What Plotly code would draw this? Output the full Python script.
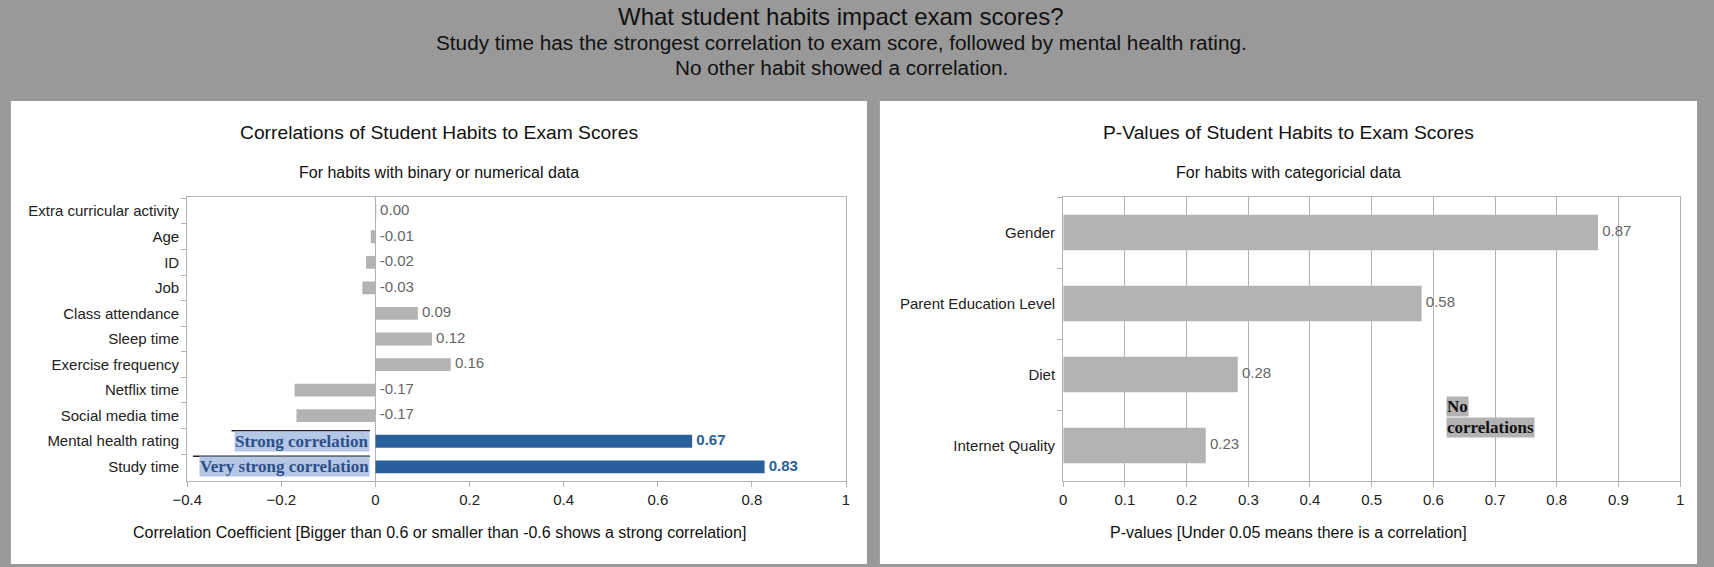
import plotly.graph_objects as go

# left chart: correlation coefficients (binary / numerical habits)
habits = ["Extra curricular activity", "Age", "ID", "Job", "Class attendance", "Sleep time",
          "Exercise frequency", "Netflix time", "Social media time", "Mental health rating", "Study time"]
corr = [0.001, -0.01, -0.02, -0.028, 0.09, 0.12, 0.16, -0.172, -0.168, 0.673, 0.827]
strong = [False] * 9 + [True, True]

# right chart: p-values (categorical habits)
cat_habits = ["Gender", "Parent Education Level", "Diet", "Internet Quality"]
pvals = [0.867, 0.581, 0.283, 0.231]

W, H = 1714, 567
BG = "#999999"
GRAY = "#b3b3b3"
BLUE = "#2a5f9e"
FONT = "Liberation Sans, Arial, sans-serif"
SERIF = "Liberation Serif, Times New Roman, serif"
TICK = 15


def px(x):
    # screenshot shows the figure shifted ~13px right, compensate
    return (1.0077 * x - 13.2) / W


def py(y):
    return 1 - y / H


fig = go.Figure()

bar_colors = [BLUE if s else GRAY for s in strong]
fig.add_trace(go.Bar(
    x=corr, y=habits, orientation="h", width=0.5,
    marker=dict(color=bar_colors, line=dict(width=0)),
    xaxis="x", yaxis="y", hoverinfo="x+y",
))
fig.add_trace(go.Scatter(
    x=[max(v, 0) for v in corr], y=habits, mode="text",
    text=[f"{v:.2f}" for v in corr],
    texttemplate=[" <b>%{text}</b>" if s else " %{text}" for s in strong],
    textposition="middle right",
    textfont=dict(family=FONT, size=TICK, color=[BLUE if s else "#666666" for s in strong]),
    xaxis="x", yaxis="y", hoverinfo="skip",
))

fig.add_trace(go.Bar(
    x=pvals, y=cat_habits, orientation="h", width=0.5,
    marker=dict(color=GRAY, line=dict(width=0)),
    xaxis="x2", yaxis="y2", hoverinfo="x+y",
))
fig.add_trace(go.Scatter(
    x=pvals, y=cat_habits, mode="text",
    text=[f"{v:.2f}" for v in pvals], texttemplate=" %{text}", textposition="middle right",
    textfont=dict(family=FONT, size=TICK, color="#666666"),
    xaxis="x2", yaxis="y2", hoverinfo="skip",
))

axis_common = dict(
    showline=True, linecolor=GRAY, linewidth=1, mirror=True,
    ticks="outside", ticklen=5, tickcolor=GRAY,
    tickfont=dict(family=FONT, size=TICK, color="#222222"),
)

fig.update_layout(
    width=W, height=H,
    margin=dict(l=0, r=0, t=0, b=0),
    paper_bgcolor=BG, plot_bgcolor="white",
    showlegend=False,
    font=dict(family=FONT, color="#222222"),
    xaxis=dict(domain=[px(186), px(847)], anchor="y", range=[-0.4, 1], dtick=0.2,
               showgrid=False, zeroline=True, zerolinecolor=GRAY, zerolinewidth=1,
               tickformat="~g", **axis_common),
    yaxis=dict(domain=[py(481), py(197)], anchor="x", autorange="reversed",
               tickson="boundaries", showgrid=False, ticksuffix=" ", **axis_common),
    xaxis2=dict(domain=[px(1065), px(1684)], anchor="y2", range=[0, 1], dtick=0.1,
                showgrid=True, gridcolor=GRAY, gridwidth=1, zeroline=False,
                tickformat="~g", **axis_common),
    yaxis2=dict(domain=[py(481), py(197)], anchor="x2", autorange="reversed",
                tickson="boundaries", showgrid=False, ticksuffix=" ", **axis_common),
)

# white panels
for x0, x1 in [(9, 868), (881, 1701)]:
    fig.add_shape(type="rect", xref="paper", yref="paper",
                  x0=px(x0), x1=px(x1), y0=py(564), y1=py(101),
                  fillcolor="white", line=dict(width=0), layer="below")

texts = [
    ("What student habits impact exam scores?", 842, 17, 24),
    ("Study time has the strongest correlation to exam score, followed by mental health rating.", 842, 42, 20.75),
    ("No other habit showed a correlation.", 842, 67, 20.75),
    ("Correlations of Student Habits to Exam Scores", 439, 133, 19.25),
    ("For habits with binary or numerical data", 439, 173, 16),
    ("Correlation Coefficient [Bigger than 0.6 or smaller than -0.6 shows a strong correlation]", 439, 532, 16),
    ("P-Values of Student Habits to Exam Scores", 1291, 133, 19.25),
    ("For habits with categoricial data", 1291, 173, 16),
    ("P-values [Under 0.05 means there is a correlation]", 1291, 532, 16),
]
for t, x, y, s in texts:
    fig.add_annotation(text=t, xref="paper", yref="paper", x=px(x), y=py(y),
                       xanchor="center", yanchor="middle", showarrow=False,
                       font=dict(family=FONT, size=s, color="#111111"))

# strong-correlation callouts
for label, idx, x_left in [("Strong correlation", 9, -0.306), ("Very strong correlation", 10, -0.388)]:
    fig.add_annotation(text=f"<b>{label}</b>", x=-0.012, y=habits[idx], xref="x", yref="y",
                       xanchor="right", yanchor="middle", showarrow=False,
                       bgcolor="#b4c7e7", borderpad=0,
                       font=dict(family=SERIF, size=17, color="#2e4f86"))
    fig.add_shape(type="line", xref="x", yref="y", x0=x_left, x1=-0.012,
                  y0=idx - 0.41, y1=idx - 0.41, line=dict(color="#222222", width=1.5))

fig.add_annotation(text="<b>No</b>", x=0.62, y=2.6, xref="x2", yref="y2",
                   xanchor="left", yanchor="bottom", align="left", showarrow=False,
                   bgcolor=GRAY, borderpad=0,
                   font=dict(family=SERIF, size=17, color="#111111"))
fig.add_annotation(text="<b>correlations</b>", x=0.62, y=2.6, xref="x2", yref="y2",
                   xanchor="left", yanchor="top", align="left", showarrow=False,
                   bgcolor=GRAY, borderpad=0,
                   font=dict(family=SERIF, size=17, color="#111111"))

fit_page = (
    "document.documentElement.style.overflow='hidden';"
    "document.body.style.margin='0';document.body.style.overflow='hidden';"
    "Plotly.relayout('{plot_id}', {width: window.innerWidth, height: window.innerHeight});"
)
fig.write_html("out.html", config={"displayModeBar": False}, post_script=fit_page)
